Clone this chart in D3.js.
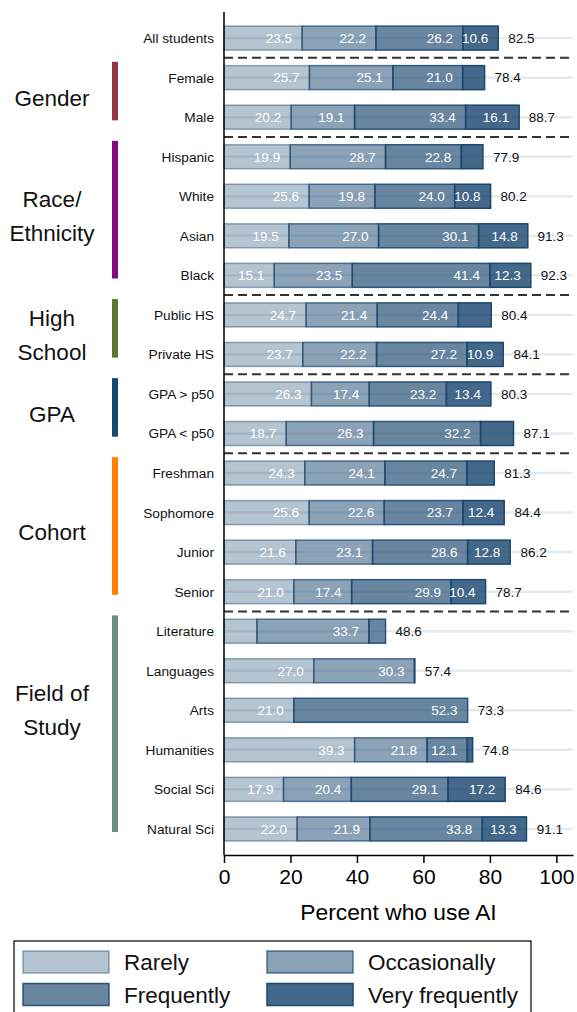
<!DOCTYPE html>
<html><head><meta charset="utf-8">
<script src="https://cdn.jsdelivr.net/npm/d3@7"></script>
<style>
body{margin:0;background:#fff}
svg{display:block;font-family:"Liberation Sans",Arial,Helvetica,sans-serif}
</style>
</head><body>
<svg id="chart" width="577" height="1012"></svg>
<script>
// ---------- data ----------
const categories = ["All students","Female","Male","Hispanic","White","Asian","Black","Public HS","Private HS","GPA > p50","GPA < p50","Freshman","Sophomore","Junior","Senior","Literature","Languages","Arts","Humanities","Social Sci","Natural Sci"];
const rarely         = [23.5,25.7,20.2,19.9,25.6,19.5,15.1,24.7,23.7,26.3,18.7,24.3,25.6,21.6,21.0, 9.9,27.0,21.0,39.3,17.9,22.0];
const occasionally   = [22.2,25.1,19.1,28.7,19.8,27.0,23.5,21.4,22.2,17.4,26.3,24.1,22.6,23.1,17.4,33.7,30.3, 0.0,21.8,20.4,21.9];
const frequently     = [26.2,21.0,33.4,22.8,24.0,30.1,41.4,24.4,27.2,23.2,32.2,24.7,23.7,28.6,29.9, 5.0, 0.0,52.3,12.1,29.1,33.8];
const veryFrequently = [10.6, 6.6,16.1, 6.5,10.8,14.8,12.3, 9.9,10.9,13.4, 9.9, 8.2,12.4,12.8,10.4, 0.0, 0.1, 0.0, 1.6,17.2,13.3];
const totals         = [82.5,78.4,88.7,77.9,80.2,91.3,92.3,80.4,84.1,80.3,87.1,81.3,84.4,86.2,78.7,48.6,57.4,73.3,74.8,84.6,91.1];
const seriesNames = ["Rarely","Occasionally","Frequently","Very frequently"];
const groupLabels = [["Gender"],["Race/","Ethnicity"],["High","School"],["GPA"],["Cohort"],["Field of","Study"]];
const groupFirst  = ["Female","Hispanic","Public HS","GPA > p50","Freshman","Literature"];
const groupLast   = ["Male","Black","Private HS","GPA < p50","Senior","Natural Sci"];
const groupLabelAt = [null,null,null,null,null,"Arts"];
const groupColors = ["#953640","#820a82","#5a782e","#184770","#ff8000","#6d9085"];
const separatorsAfter = ["All students","Male","Black","Private HS","GPA < p50","Senior"];
const xTicks = [0,20,40,60,80,100];
const xTitle = "Percent who use AI";

// ---------- styles ----------
const navy = "#1a476f";
const fillOp   = [0.32,0.50,0.66,0.82];
const strokeOp = [0.45,0.70,0.88,1.0];
const labelThreshold = 10;

const svg = d3.select("#chart");
const x = d3.scaleLinear().domain([0,105]).range([224,573]);
const y = d3.scalePoint().domain(categories).range([12,855]).padding(0.66);
const step = y.step();
const barH = 24;

const table = categories.map((c,i)=>({cat:c,Rarely:rarely[i],Occasionally:occasionally[i],Frequently:frequently[i],"Very frequently":veryFrequently[i],total:totals[i]}));
const stacked = d3.stack().keys(seriesNames)(table);

// gridlines
svg.append("g").selectAll("line").data(categories).join("line")
  .attr("x1",x(0)).attr("x2",x.range()[1])
  .attr("y1",d=>y(d)).attr("y2",d=>y(d))
  .attr("stroke","#e3ebf1").attr("stroke-width",2.5);

// bars
const layers = svg.append("g").selectAll("g").data(stacked).join("g");
layers.each(function(s,k){
  const g = d3.select(this);
  const segs = s.filter(d=>d[1]-d[0]>0);
  g.selectAll("rect").data(segs).join("rect")
    .attr("x",d=>x(d[0])).attr("width",d=>x(d[1])-x(d[0]))
    .attr("y",d=>y(d.data.cat)-barH/2).attr("height",barH)
    .attr("fill",navy).attr("fill-opacity",fillOp[k])
    .attr("stroke",navy).attr("stroke-opacity",strokeOp[k]).attr("stroke-width",1.5);
});
layers.each(function(s,k){
  const g = d3.select(this);
  const segs = s.filter(d=>d[1]-d[0]>=labelThreshold);
  g.selectAll("text").data(segs).join("text")
    .attr("x",d=>x(d[1])-10).attr("y",d=>y(d.data.cat))
    .attr("dy","0.36em").attr("text-anchor","end")
    .attr("fill","#fff").attr("font-size",13.5)
    .text(d=>(d[1]-d[0]).toFixed(1));
});

// totals
svg.append("g").selectAll("text").data(table).join("text")
  .attr("x",d=>x(d.total)+10).attr("y",d=>y(d.cat)).attr("dy","0.36em")
  .attr("font-size",13.5).attr("fill","#111")
  .text(d=>d.total.toFixed(1));

// separators
svg.append("g").selectAll("line").data(separatorsAfter).join("line")
  .attr("x1",x(0)).attr("x2",x.range()[1])
  .attr("y1",d=>y(d)+step/2).attr("y2",d=>y(d)+step/2)
  .attr("stroke","#333").attr("stroke-width",2).attr("stroke-dasharray","9,5");

// row labels
svg.append("g").selectAll("text").data(categories).join("text")
  .attr("x",x(0)-10).attr("y",d=>y(d)).attr("dy","0.36em")
  .attr("text-anchor","end").attr("font-size",13.7).attr("fill","#111")
  .text(d=>d);

// y axis line
svg.append("line").attr("x1",x(0)).attr("x2",x(0)).attr("y1",12).attr("y2",855)
  .attr("stroke","#000").attr("stroke-width",1.5);

// x axis
const xa = svg.append("g").attr("transform","translate(0,855)")
  .call(d3.axisBottom(x).tickValues(xTicks).tickSize(8).tickSizeOuter(0).tickPadding(6));
xa.select(".domain").attr("stroke","#000").attr("stroke-width",1.5);
xa.selectAll(".tick line").attr("stroke","#000").attr("stroke-width",1.5);
xa.selectAll(".tick text").attr("font-size",21).attr("fill","#000")
  .attr("font-family",'"Liberation Sans",Arial,sans-serif');
svg.append("text").attr("x",(x(0)+x.range()[1])/2).attr("y",920)
  .attr("text-anchor","middle").attr("font-size",22.8).attr("fill","#000").text(xTitle);

// group bars & labels
groupLabels.forEach((lines,i)=>{
  const y0 = y(groupFirst[i]) - 0.4*step, y1 = y(groupLast[i]) + 0.08*step;
  svg.append("rect").attr("x",112).attr("width",6).attr("y",y0).attr("height",y1-y0)
    .attr("fill",groupColors[i]);
  const cy = groupLabelAt[i] ? y(groupLabelAt[i]) : (y(groupFirst[i])+y(groupLast[i]))/2;
  const lh = 34;
  const t = svg.append("text").attr("text-anchor","middle").attr("font-size",22.5).attr("fill","#111");
  lines.forEach((ln,j)=>{
    t.append("tspan").attr("x",52).attr("y",cy + (j-(lines.length-1)/2)*lh).attr("dy","0.36em").text(ln);
  });
});

// legend
const lg = svg.append("g");
lg.append("rect").attr("x",14).attr("y",941).attr("width",517).attr("height",100)
  .attr("fill","#fff").attr("stroke","#000").attr("stroke-width",1.2);
const lgCols = [23,267], lgRows = [962,994.5];
seriesNames.forEach((n,k)=>{
  const cx = lgCols[k%2], cy = lgRows[Math.floor(k/2)];
  lg.append("rect").attr("x",cx).attr("y",cy-11).attr("width",86).attr("height",22)
    .attr("fill",navy).attr("fill-opacity",fillOp[k])
    .attr("stroke",navy).attr("stroke-opacity",strokeOp[k]).attr("stroke-width",1.5);
  lg.append("text").attr("x",cx+101).attr("y",cy).attr("dy","0.36em")
    .attr("font-size",22.5).attr("fill","#111").text(n);
});
</script>
</body></html>
